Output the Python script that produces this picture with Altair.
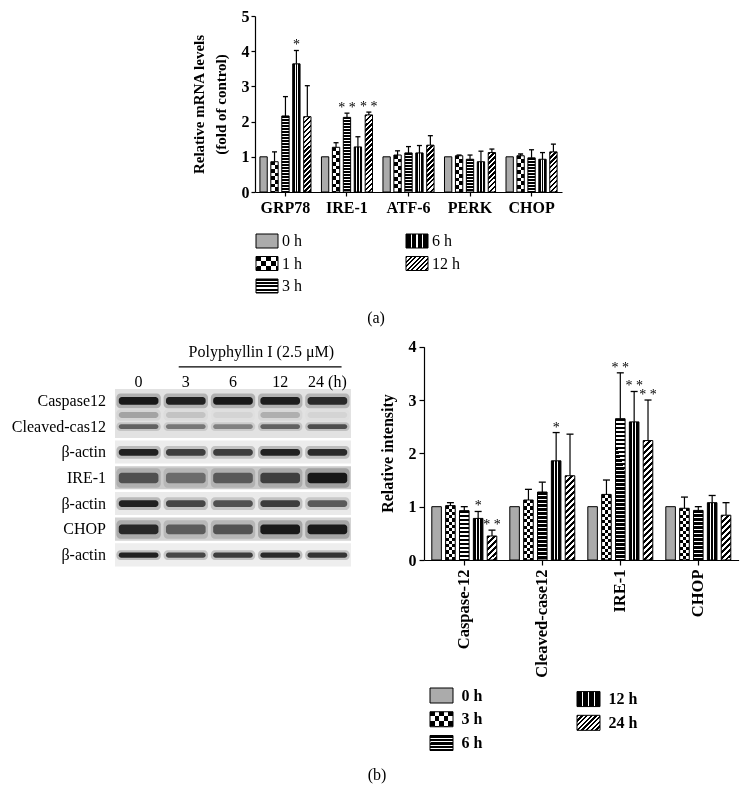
import math
import altair as alt

FONT = "Liberation Serif"
W, H = 740, 791

# ---------------- panel (a): relative mRNA levels ----------------
a_genes = ["GRP78", "IRE-1", "ATF-6", "PERK", "CHOP"]
a_times = ["0 h", "1 h", "3 h", "6 h", "12 h"]
a_mean_0h = [1.00, 1.00, 1.00, 1.00, 1.00]
a_mean_1h = [0.86, 1.27, 1.05, 1.03, 1.03]
a_mean_3h = [2.16, 2.12, 1.11, 0.93, 0.97]
a_mean_6h = [3.64, 1.28, 1.11, 0.86, 0.93]
a_mean_12h = [2.14, 2.19, 1.33, 1.12, 1.14]
a_err_0h = [0.00, 0.00, 0.00, 0.00, 0.00]
a_err_1h = [0.28, 0.13, 0.12, 0.02, 0.05]
a_err_3h = [0.55, 0.12, 0.18, 0.12, 0.23]
a_err_6h = [0.38, 0.29, 0.21, 0.30, 0.19]
a_err_12h = [0.88, 0.08, 0.27, 0.10, 0.22]
a_sig_0h = ["", "", "", "", ""]
a_sig_1h = ["", "", "", "", ""]
a_sig_3h = ["", "* *", "", "", ""]
a_sig_6h = ["*", "", "", "", ""]
a_sig_12h = ["", "* *", "", "", ""]

# ---------------- panel (b): relative intensity ----------------
b_proteins = ["Caspase-12", "Cleaved-case12", "IRE-1", "CHOP"]
b_times = ["0 h", "3 h", "6 h", "12 h", "24 h"]
b_mean_0h = [1.00, 1.00, 1.00, 1.00]
b_mean_3h = [1.02, 1.125, 1.23, 0.97]
b_mean_6h = [0.925, 1.275, 2.65, 0.93]
b_mean_12h = [0.78, 1.86, 2.59, 1.075]
b_mean_24h = [0.45, 1.58, 2.24, 0.84]
b_err_0h = [0.00, 0.00, 0.00, 0.00]
b_err_3h = [0.055, 0.20, 0.27, 0.21]
b_err_6h = [0.075, 0.185, 0.86, 0.07]
b_err_12h = [0.13, 0.53, 0.57, 0.135]
b_err_24h = [0.11, 0.78, 0.76, 0.235]
b_sig_0h = ["", "", "", ""]
b_sig_3h = ["", "", "", ""]
b_sig_6h = ["", "", "* *", ""]
b_sig_12h = ["*", "*", "* *", ""]
b_sig_24h = ["* *", "", "* *", ""]

# ---------------- western blot (schematic) ----------------
blot_rows = ["Caspase12", "Cleaved-cas12", "β-actin", "IRE-1", "β-actin", "CHOP", "β-actin"]
blot_lanes = ["0", "3", "6", "12", "24 (h)"]
blot_caspase12 = [0.95, 0.90, 0.95, 0.92, 0.85]
blot_cleaved = [0.55, 0.45, 0.40, 0.55, 0.65]
blot_actin1 = [0.90, 0.75, 0.75, 0.90, 0.85]
blot_ire1 = [0.60, 0.45, 0.55, 0.70, 0.95]
blot_actin2 = [0.90, 0.70, 0.65, 0.75, 0.60]
blot_chop = [0.85, 0.55, 0.60, 0.95, 0.95]
blot_actin3 = [0.90, 0.70, 0.75, 0.85, 0.80]
blot_smear = [0.25, 0.12, 0.05, 0.20, 0.05]
blot_header = "Polyphyllin I (2.5 μM)"

# ---------------- styles ----------------
KINDS = ["stipple", "checker", "hstripe", "vlines", "diag"]
blot_bg = ["#e2e2e2", "#e2e2e2", "#ececec", "#cbcbcb", "#eaeaea", "#d3d3d3", "#eeeeee"]
blot_blocks = [[0, 1], [2], [3], [4], [5], [6]]
blot_thick = [0.15, 0.09, 0.13, 0.2, 0.13, 0.19, 0.1]


def stripes(periods, dark_frac, dark="#000000", light="#ffffff"):
    stops = []
    p = 1.0 / max(periods, 0.5)
    i = 0
    while i * p < 1 - 1e-9:
        a = i * p
        b = min(1.0, a + dark_frac * p)
        c = min(1.0, (i + 1) * p)
        stops += [(a, dark), (b, dark), (b, light), (c, light)]
        i += 1
    return [{"offset": round(o, 5), "color": col} for o, col in stops]


def lin(x2, y2, stops):
    return {"gradient": "linear", "x1": 0, "y1": 0, "x2": x2, "y2": y2, "stops": stops}


def make_pattern(kind, w, h, st):
    if kind == "stipple":
        return "#ababab", None
    if kind == "checker":
        sq = st["sq"]
        base = lin(1, 0, stripes(w / (2 * sq), 0.5))
        ov = lin(0.0001, 1, stripes(h / (2 * sq), 0.5))
        return base, ov
    if kind == "hstripe":
        return lin(0.0001, 1, stripes(h / st["pitch"], st["dark"])), None
    if kind == "vlines":
        n = st["lines"]
        lw = st["lw"] / w
        stops = [{"offset": 0, "color": "#000000"}]
        for k in range(n):
            pos = (k + 1) / (n + 1)
            a, b = round(pos - lw / 2, 5), round(pos + lw / 2, 5)
            stops += [{"offset": a, "color": "#000000"}, {"offset": a, "color": "#ffffff"},
                      {"offset": b, "color": "#ffffff"}, {"offset": b, "color": "#000000"}]
        stops.append({"offset": 1, "color": "#000000"})
        return lin(1, 0, stops), None
    # diagonal hatch "////"
    c = (1 / h + 1 / w) / (1 / h ** 2 + 1 / w ** 2)
    n = (w + h) / math.sqrt(2) / st["dpitch"]
    return lin(round(c / h, 5), round(c / w, 5), stripes(n, 0.5)), None


def bar_records(cats, times, means, errs, sigs, w, pxu, st):
    recs = []
    for ti, t in enumerate(times):
        for ci, c in enumerate(cats):
            v = means[ti][ci]
            e = errs[ti][ci]
            pat, ov = make_pattern(KINDS[ti], w, max(v * pxu, 1), st)
            recs.append({"cat": c, "time": t, "v": v, "top": round(v + e, 4),
                         "sig": sigs[ti][ci], "pat": pat, "ov": ov})
    return recs


common_axis = dict(labelFont=FONT, labelFontWeight="bold", labelColor="black",
                   domainColor="black", tickColor="black", grid=False,
                   domainWidth=1.2, tickWidth=1.2, titleFont=FONT,
                   titleFontWeight="bold", titleColor="black")


def bar_panel(recs, cats, times, x_range, pin, pout, off_pad, y_dom, y_range,
              xaxis, yaxis, cap, star_size):
    X = alt.X("cat:N", scale=alt.Scale(domain=cats, range=x_range,
                                       paddingInner=pin, paddingOuter=pout), axis=xaxis)
    XO = alt.XOffset("time:N", scale=alt.Scale(domain=times, paddingInner=off_pad,
                                               paddingOuter=0))
    ysc = alt.Scale(domain=y_dom, range=y_range, nice=False)
    Yv = alt.Y("v:Q", scale=ysc, axis=yaxis, stack=None)
    Yt = alt.Y("top:Q", scale=ysc, axis=yaxis)
    base = alt.Chart(alt.Data(values=recs))
    fill_l = base.mark_bar(strokeWidth=0, opacity=1).encode(
        x=X, xOffset=XO, y=Yv, fill=alt.Fill("pat:N", scale=None))
    ov_l = base.transform_filter("datum.ov != null").mark_bar(
        strokeWidth=0, opacity=1, blend="difference").encode(
        x=X, xOffset=XO, y=Yv, fill=alt.Fill("ov:N", scale=None))
    out_l = base.mark_bar(fill="white", fillOpacity=0, stroke="black",
                          strokeWidth=1, opacity=1).encode(x=X, xOffset=XO, y=Yv)
    err_l = base.transform_filter("datum.top > datum.v").mark_rule(
        color="black", strokeWidth=1.2).encode(x=X, xOffset=XO, y=Yv, y2=alt.Y2("top:Q"))
    cap_l = base.transform_filter("datum.top > datum.v").mark_tick(
        orient="horizontal", size=cap, thickness=1.3, color="black", opacity=1).encode(
        x=X, xOffset=XO, y=Yt)
    star_l = base.transform_filter("datum.sig != ''").mark_text(
        font=FONT, fontSize=star_size, baseline="alphabetic", dy=-1, color="black").encode(
        x=X, xOffset=XO, y=Yt, text="sig:N")
    return alt.layer(fill_l, ov_l, out_l, err_l, cap_l, star_l)


def legend_panel(items, x_range, y_range, w, h, st, dx, weight):
    recs = []
    for i, (t, c, r) in enumerate(items):
        pat, ov = make_pattern(KINDS[i], w, h, st)
        recs.append({"t": t, "c": c, "r": r, "pat": pat, "ov": ov})
    X = alt.X("c:Q", scale=alt.Scale(domain=[0, 1], range=x_range, nice=False, zero=False), axis=None)
    Y = alt.Y("r:Q", scale=alt.Scale(domain=[0, 2], range=y_range, nice=False, zero=False), axis=None)
    base = alt.Chart(alt.Data(values=recs))
    sw = base.mark_tick(orient="horizontal", size=w, thickness=h, strokeWidth=0, opacity=1).encode(
        x=X, y=Y, fill=alt.Fill("pat:N", scale=None))
    ov = base.transform_filter("datum.ov != null").mark_tick(
        orient="horizontal", size=w, thickness=h, strokeWidth=0, opacity=1,
        blend="difference").encode(x=X, y=Y, fill=alt.Fill("ov:N", scale=None))
    out = base.mark_tick(orient="horizontal", size=w, thickness=h, fill="white",
                         fillOpacity=0, stroke="black", strokeWidth=1, opacity=1).encode(x=X, y=Y)
    txt = base.mark_text(align="left", baseline="middle", dx=dx, font=FONT, fontSize=16,
                         fontWeight=weight, color="black").encode(x=X, y=Y, text="t:N")
    return alt.layer(sw, ov, out, txt)


# ----- panel (a)
a_means = [a_mean_0h, a_mean_1h, a_mean_3h, a_mean_6h, a_mean_12h]
a_errs = [a_err_0h, a_err_1h, a_err_3h, a_err_6h, a_err_12h]
a_sigs = [a_sig_0h, a_sig_1h, a_sig_3h, a_sig_6h, a_sig_12h]
st_a = {"sq": 3.65, "pitch": 3.0, "dark": 0.65, "lines": 2, "lw": 1.0, "dpitch": 3.5}
recs_a = bar_records(a_genes, a_times, a_means, a_errs, a_sigs, 7.3, 35.2, st_a)

ax_a_y = alt.Axis(orient="left", offset=-247, values=[0, 1, 2, 3, 4, 5], format="d",
                  labelFontSize=16, tickSize=4, labelPadding=2,
                  title=["Relative mRNA levels", "(fold of control)"], titleFontSize=15,
                  titleX=-57, titleY=96, titleLineHeight=22, titleBaseline="middle",
                  titleAlign="center", **common_axis)
ax_a_x = alt.Axis(orient="bottom", offset=-(H - 184), labelFontSize=16, tickSize=4,
                  labelPadding=3, labelAngle=0, title=None, **common_axis)
panel_a = bar_panel(recs_a, a_genes, a_times, [247, 554], 0.17, 0.08, 0.33, [0, 5], [184, 8],
                    ax_a_x, ax_a_y, 5, 14)

st_la = {"sq": 5.0, "pitch": 3.2, "dark": 0.6, "lines": 3, "lw": 1.3, "dpitch": 3.2}
legend_a = legend_panel([("0 h", 0, 0), ("1 h", 0, 1), ("3 h", 0, 2), ("6 h", 1, 0), ("12 h", 1, 1)],
                        [259, 409], [233, 278], 22, 14, st_la, 15, "normal")

# ----- panel (b)
b_means = [b_mean_0h, b_mean_3h, b_mean_6h, b_mean_12h, b_mean_24h]
b_errs = [b_err_0h, b_err_3h, b_err_6h, b_err_12h, b_err_24h]
b_sigs = [b_sig_0h, b_sig_3h, b_sig_6h, b_sig_12h, b_sig_24h]
st_b = {"sq": 3.2, "pitch": 4.0, "dark": 0.7, "lines": 2, "lw": 1.0, "dpitch": 4.2}
recs_b = bar_records(b_proteins, b_times, b_means, b_errs, b_sigs, 9.5, 53.3, st_b)

ax_b_y = alt.Axis(orient="left", offset=-416, values=[0, 1, 2, 3, 4], format="d",
                  labelFontSize=16, tickSize=5, labelPadding=3, title="Relative intensity",
                  titleFontSize=16, titleX=-37, titleY=445, titleBaseline="middle",
                  titleAlign="center", **common_axis)
ax_b_x = alt.Axis(orient="bottom", offset=552 - H, labelFontSize=16.5, tickSize=5,
                  labelPadding=4, labelAngle=270, title=None, **common_axis)
panel_b = bar_panel(recs_b, b_proteins, b_times, [416, 730.6], 0.167, 0.1, 0.31, [0, 4],
                    [552, 338.7], ax_b_x, ax_b_y, 7, 14)

st_lb = {"sq": 4.6, "pitch": 3.5, "dark": 0.6, "lines": 3, "lw": 1.4, "dpitch": 3.3}
legend_b = legend_panel([("0 h", 0, 0), ("3 h", 0, 1), ("6 h", 0, 2), ("12 h", 1, 0.15), ("24 h", 1, 1.15)],
                        [433.5, 580.5], [687.5, 735], 23, 15, st_lb, 20, "bold")

# ----- blot
bx = alt.Scale(domain=[-0.5, 4.5], range=[107, 343], nice=False, zero=False)
by = alt.Scale(domain=[-0.5, 6.5], range=[380, 560], nice=False, zero=False)
blot_int = [blot_caspase12, blot_cleaved, blot_actin1, blot_ire1, blot_actin2, blot_chop, blot_actin3]

bg_recs = [{"ya": blk[0] - 0.46, "yb": blk[-1] + 0.44, "bg": blot_bg[blk[0]]} for blk in blot_blocks]
bg_layer = alt.Chart(alt.Data(values=bg_recs)).mark_rect(opacity=1).encode(
    x=alt.XDatum(-0.5, scale=bx, axis=None), x2=alt.X2Datum(4.5),
    y=alt.Y("ya:Q", scale=by, axis=None), y2=alt.Y2("yb:Q"),
    color=alt.Color("bg:N", scale=None))

band_recs = []
for ri, row in enumerate(blot_int):
    for li, val in enumerate(row):
        band_recs.append({"lane": li, "row": ri, "op": val, "ht": blot_thick[ri]})
for li, val in enumerate(blot_smear):
    band_recs.append({"lane": li, "row": 0.55, "op": val, "ht": 0.12})

bands = alt.Chart(alt.Data(values=band_recs))
halo = bands.transform_calculate(
    xa="datum.lane - 0.47", xb="datum.lane + 0.47",
    ya="datum.row - datum.ht * 1.9", yb="datum.row + datum.ht * 1.9",
    o2="datum.op * 0.3").mark_rect(color="#333333", cornerRadius=4).encode(
    x=alt.X("xa:Q", scale=bx, axis=None), x2="xb:Q",
    y=alt.Y("ya:Q", scale=by, axis=None), y2="yb:Q",
    opacity=alt.Opacity("o2:Q", scale=None))
core = bands.transform_calculate(
    xa="datum.lane - 0.42", xb="datum.lane + 0.42",
    ya="datum.row - datum.ht", yb="datum.row + datum.ht").mark_rect(
    color="#111111", cornerRadius=3).encode(
    x=alt.X("xa:Q", scale=bx, axis=None), x2="xb:Q",
    y=alt.Y("ya:Q", scale=by, axis=None), y2="yb:Q",
    opacity=alt.Opacity("op:Q", scale=None))

row_lab = alt.Chart(alt.Data(values=[{"label": l, "row": i} for i, l in enumerate(blot_rows)])).mark_text(
    align="right", baseline="middle", dx=-9, font=FONT, fontSize=16, color="black").encode(
    x=alt.XDatum(-0.5, scale=bx, axis=None), y=alt.Y("row:Q", scale=by, axis=None), text="label:N")
lane_lab = alt.Chart(alt.Data(values=[{"label": l, "lane": i} for i, l in enumerate(blot_lanes)])).mark_text(
    align="center", baseline="middle", font=FONT, fontSize=16, color="black").encode(
    x=alt.X("lane:Q", scale=bx, axis=None), y=alt.YDatum(-0.75, scale=by, axis=None), text="label:N")
head_txt = alt.Chart(alt.Data(values=[{"label": blot_header}])).mark_text(
    align="center", baseline="middle", font=FONT, fontSize=16, color="black").encode(
    x=alt.XDatum(2.6, scale=bx, axis=None), y=alt.YDatum(-1.9, scale=by, axis=None), text="label:N")
head_rule = alt.Chart(alt.Data(values=[{"label": blot_header}])).mark_rule(
    color="black", strokeWidth=1.2).encode(
    x=alt.XDatum(0.85, scale=bx, axis=None), x2=alt.X2Datum(4.3),
    y=alt.YDatum(-1.32, scale=by, axis=None))
blot = alt.layer(bg_layer, halo, core, row_lab, lane_lab, head_txt, head_rule)

# ----- captions
cap_a = alt.Chart(alt.Data(values=[{"t": "(a)"}])).mark_text(
    font=FONT, fontSize=16, align="center", baseline="middle", color="black").encode(
    x=alt.value(368), y=alt.value(310), text="t:N")
cap_b = alt.Chart(alt.Data(values=[{"t": "(b)"}])).mark_text(
    font=FONT, fontSize=16, align="center", baseline="middle", color="black").encode(
    x=alt.value(369), y=alt.value(767), text="t:N")

chart = alt.layer(panel_a, legend_a, blot, panel_b, legend_b, cap_a, cap_b).resolve_scale(
    x="independent", y="independent", xOffset="independent"
).properties(
    width=W, height=H, autosize=alt.AutoSizeParams(type="none"), padding=0,
    background="white"
).configure_view(strokeWidth=0, stroke="transparent")

chart.save("out.html", embed_options={"renderer": "svg", "actions": False})
